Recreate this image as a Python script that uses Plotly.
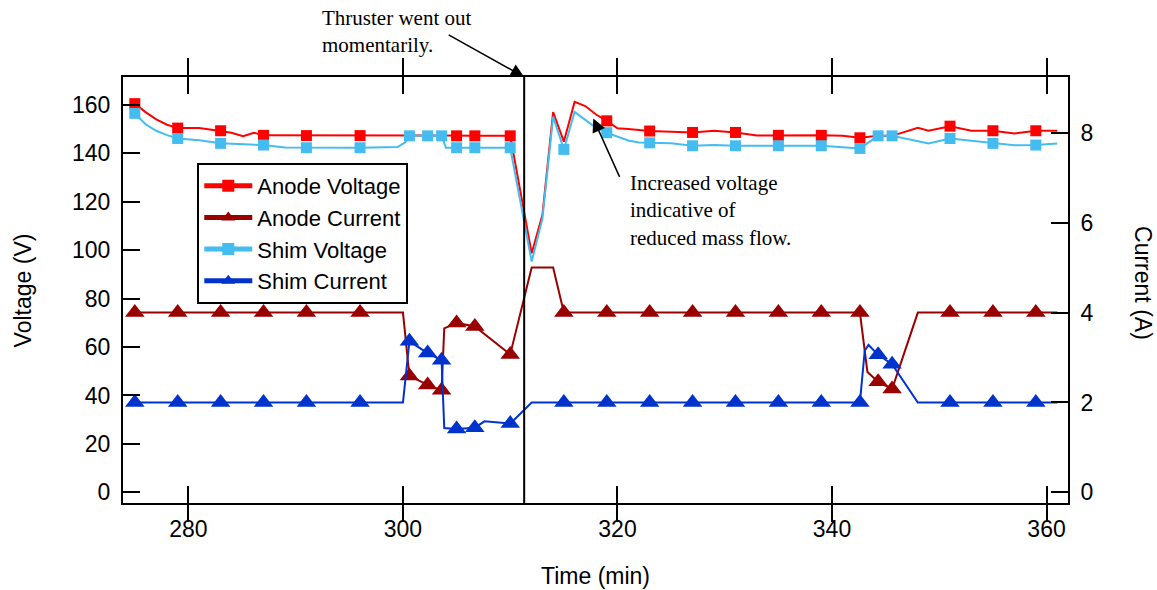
import plotly.graph_objects as go

# ---------------- data ----------------
# Anode Voltage (V)
anode_v_time = [275.0, 276.0, 277.0, 278.0, 279.0, 280.0, 281.0, 282.0, 283.0, 284.0, 285.1, 286.1,
                287.0, 291.0, 296.0, 300.0, 300.6, 302.3, 303.6, 305.0, 306.7, 310.0, 312.0, 313.0,
                314.0, 315.0, 316.0, 317.0, 318.0, 319.0, 320.0, 321.0, 323.0, 325.0, 327.0, 329.0,
                331.0, 333.0, 335.0, 339.0, 341.0, 342.6, 344.3, 345.6, 348.0, 349.0, 351.0, 353.0,
                355.0, 357.0, 359.0, 361.0]
anode_v_value = [160.5, 157.0, 154.0, 151.8, 150.4, 150.3, 150.4, 149.8, 149.3, 148.5, 147.1, 148.5,
                 147.4, 147.3, 147.3, 147.3, 147.3, 147.3, 147.3, 147.2, 147.2, 147.2, 98.7, 114.5,
                 157.0, 144.8, 161.2, 159.5, 156.0, 153.4, 150.3, 150.0, 149.2, 148.9, 148.6, 149.3,
                 148.6, 147.3, 147.4, 147.4, 147.2, 146.4, 147.2, 147.2, 150.5, 149.3, 151.2, 149.3,
                 149.3, 148.2, 149.3, 149.3]
anode_v_marks = [275.0, 279.0, 283.0, 287.0, 291.0, 296.0, 305.0, 306.7, 310.0, 319.0, 323.0, 327.0,
                 331.0, 335.0, 339.0, 342.6, 351.0, 355.0, 359.0]

# Shim Voltage (V)
shim_v_time = [275.0, 276.0, 277.0, 278.0, 279.0, 281.0, 283.0, 285.0, 287.0, 289.0, 291.0, 296.0,
               299.5, 300.2, 300.6, 302.3, 303.6, 304.0, 305.0, 306.7, 310.0, 312.0, 313.0, 314.0,
               315.0, 316.0, 317.0, 318.0, 319.0, 320.0, 321.0, 322.0, 323.0, 325.0, 327.0, 329.0,
               331.0, 333.0, 335.0, 339.0, 341.0, 342.6, 344.3, 345.6, 349.0, 351.0, 353.0, 355.0,
               357.0, 359.0, 361.0]
shim_v_value = [156.5, 152.0, 149.3, 147.5, 146.1, 145.4, 144.1, 143.8, 143.4, 142.4, 142.3, 142.3,
                142.6, 144.5, 147.2, 147.2, 147.2, 142.3, 142.3, 142.3, 142.3, 95.3, 113.0, 155.1,
                141.6, 157.1, 153.7, 150.5, 148.5, 146.8, 145.3, 144.5, 144.3, 144.1, 143.1, 143.4,
                143.1, 143.0, 143.1, 143.1, 142.6, 142.0, 147.2, 147.2, 144.1, 146.1, 145.2, 144.1,
                143.3, 143.4, 144.0]

# Anode Current (A)
anode_i_time = [275.0, 279.0, 283.0, 287.0, 291.0, 296.0, 300.0, 300.6, 302.3, 303.6, 303.85, 305.0,
                306.7, 310.0, 312.0, 314.0, 315.0, 319.0, 323.0, 327.0, 331.0, 335.0, 339.0, 342.6,
                343.3, 344.3, 345.6, 348.0, 351.0, 355.0, 359.0, 361.0]
anode_i_value = [4.0, 4.0, 4.0, 4.0, 4.0, 4.0, 4.0, 2.59, 2.39, 2.27, 3.65, 3.77,
                 3.69, 3.07, 5.0, 5.0, 4.0, 4.0, 4.0, 4.0, 4.0, 4.0, 4.0, 4.0,
                 2.68, 2.46, 2.3, 4.0, 4.0, 4.0, 4.0, 4.0]

# Shim Current (A)
shim_i_time = [275.0, 279.0, 283.0, 287.0, 291.0, 296.0, 300.0, 300.6, 302.3, 303.6, 303.85, 305.0,
               306.7, 307.6, 310.0, 312.0, 315.0, 319.0, 323.0, 327.0, 331.0, 335.0, 339.0, 342.6,
               343.05, 343.4, 344.3, 345.6, 348.0, 351.0, 355.0, 359.0, 361.0]
shim_i_value = [2.0, 2.0, 2.0, 2.0, 2.0, 2.0, 2.0, 3.36, 3.1, 2.94, 1.43, 1.41,
                1.44, 1.58, 1.53, 2.0, 2.0, 2.0, 2.0, 2.0, 2.0, 2.0, 2.0, 2.0,
                3.15, 3.28, 3.06, 2.85, 2.0, 2.0, 2.0, 2.0, 2.0]

# marker sample times shared by shim voltage and both currents
common_marks = [275.0, 279.0, 283.0, 287.0, 291.0, 296.0, 300.6, 302.3, 303.6, 305.0, 306.7, 310.0,
                315.0, 319.0, 323.0, 327.0, 331.0, 335.0, 339.0, 342.6, 344.3, 345.6, 351.0, 355.0,
                359.0]

event_time = 311.3          # thruster went out
x_ticks = [280, 300, 320, 340, 360]
v_ticks = [0, 20, 40, 60, 80, 100, 120, 140, 160]
i_ticks = [0, 2, 4, 6, 8]

# ---------------- style ----------------
SANS = "Liberation Sans, Arial, sans-serif"
SERIF = "Liberation Serif, Times New Roman, serif"
RED = "#FF0000"
DARKRED = "#990000"
CYAN = "#45BCF0"
BLUE = "#0033CC"


def sizes(times, marks, s):
    return [s if any(abs(t - m) < 1e-6 for m in marks) else 0 for t in times]


def marker(symbol, color, times, marks, s):
    return dict(symbol=symbol, color=color, size=sizes(times, marks, s), opacity=1,
                line=dict(width=0, color=color))


fig = go.Figure()
fig.add_trace(go.Scatter(x=anode_v_time, y=anode_v_value, name="Anode Voltage", mode="lines+markers",
                         line=dict(color=RED, width=2),
                         marker=marker("square", RED, anode_v_time, anode_v_marks, 11),
                         yaxis="y"))
fig.add_trace(go.Scatter(x=anode_i_time, y=anode_i_value, name="Anode Current", mode="lines+markers",
                         line=dict(color=DARKRED, width=2),
                         marker=marker("triangle-up", DARKRED, anode_i_time, common_marks, 17),
                         yaxis="y2"))
fig.add_trace(go.Scatter(x=shim_v_time, y=shim_v_value, name="Shim Voltage", mode="lines+markers",
                         line=dict(color=CYAN, width=2),
                         marker=marker("square", CYAN, shim_v_time, common_marks, 11),
                         yaxis="y"))
fig.add_trace(go.Scatter(x=shim_i_time, y=shim_i_value, name="Shim Current", mode="lines+markers",
                         line=dict(color=BLUE, width=2),
                         marker=marker("triangle-up", BLUE, shim_i_time, common_marks, 17),
                         yaxis="y2"))

axis_common = dict(showline=True, linecolor="black", linewidth=2, ticks="inside", ticklen=17,
                   tickwidth=2, tickcolor="black", showgrid=False, zeroline=False,
                   tickfont=dict(family=SANS, size=23, color="black"))

fig.update_layout(
    width=1157, height=590, template="none",
    paper_bgcolor="white", plot_bgcolor="white",
    margin=dict(l=123, r=89, t=77, b=87),
    font=dict(family=SANS, size=23, color="black"),
    xaxis=dict(range=[273.9, 362.0], tickvals=x_ticks, mirror="allticks", ticklabelstandoff=4,
               **axis_common),
    yaxis=dict(range=[-4.4, 171.5], tickvals=v_ticks, ticklabelstandoff=6, **axis_common),
    yaxis2=dict(range=[-0.236, 9.24], tickvals=i_ticks, overlaying="y", side="right",
                ticklabelstandoff=6, **axis_common),
    showlegend=True,
    legend=dict(x=0.0786, y=0.798, xanchor="left", yanchor="top", bgcolor="white",
                bordercolor="black", borderwidth=2, itemsizing="constant", itemwidth=48,
                font=dict(family=SANS, size=22, color="black"), tracegroupgap=0),
)

fig.add_shape(type="line", xref="x", yref="paper", x0=event_time, x1=event_time, y0=0, y1=1,
              line=dict(color="black", width=2))

# axis titles
fig.add_annotation(text="Time (min)", xref="paper", yref="paper", x=0.5, y=-0.172,
                   showarrow=False, font=dict(family=SANS, size=23), xanchor="center", yanchor="middle")
fig.add_annotation(text="Voltage (V)", xref="paper", yref="paper", x=-0.1054, y=0.5,
                   showarrow=False, textangle=-90, font=dict(family=SANS, size=23),
                   xanchor="center", yanchor="middle")
fig.add_annotation(text="Current (A)", xref="paper", yref="paper", x=1.0795, y=0.516,
                   showarrow=False, textangle=90, font=dict(family=SANS, size=23),
                   xanchor="center", yanchor="middle")

# call-outs
fig.add_annotation(text="Thruster went out<br>momentarily.", xref="paper", yref="paper",
                   x=0.2087, y=1.1076, xanchor="left", yanchor="middle", align="left",
                   showarrow=False, font=dict(family=SERIF, size=21, color="black"))
fig.add_annotation(text="", xref="x", yref="paper", x=event_time, y=1.0, ax=-77, ay=-43,
                   showarrow=True, arrowhead=2, arrowsize=1.8, arrowwidth=1.5, arrowcolor="black")
fig.add_annotation(text="Increased voltage<br>indicative of<br>reduced mass flow.", xref="paper",
                   yref="paper", x=0.5347, y=0.6864, xanchor="left", yanchor="middle", align="left",
                   showarrow=False, font=dict(family=SERIF, size=21, color="black"))
fig.add_annotation(text="", xref="x", yref="y", x=317.74, y=154.4, ax=27, ay=60,
                   showarrow=True, arrowhead=2, arrowsize=1.8, arrowwidth=1.5, arrowcolor="black")

fig.write_html("out.html")
